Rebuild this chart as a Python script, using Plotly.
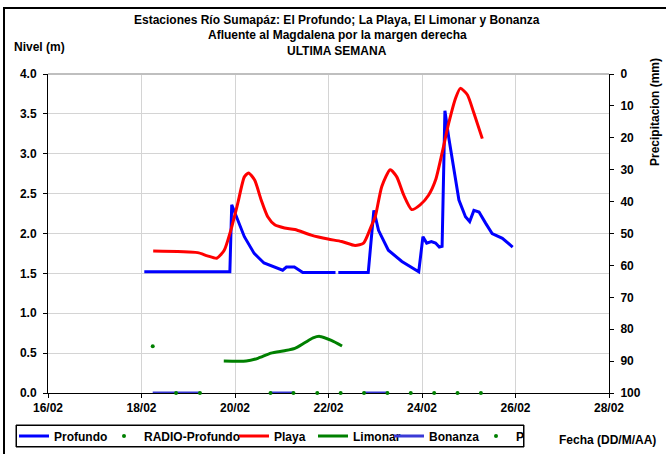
import pandas as pd
import plotly.graph_objects as go

# day-of-month (February) as fractional days, levels in metres
profundo_day = [18.06, 19.89, 19.93, 20.2, 20.41, 20.62, 21.02, 21.1, 21.27, 21.45, 22.15, None,
                22.21, 22.85, 22.97, 23.07, 23.28, 23.57, 23.93, 24.02, 24.1, 24.2, 24.29, 24.37,
                24.43, 24.49, 24.57, 24.68, 24.79, 24.93, 25.02, 25.11, 25.22, 25.36, 25.5, 25.72, 25.94]
profundo_lvl = [1.52, 1.52, 2.36, 1.96, 1.75, 1.63, 1.54, 1.58, 1.58, 1.51, 1.51, None,
                1.51, 1.51, 2.29, 2.04, 1.79, 1.65, 1.52, 1.96, 1.88, 1.90, 1.88, 1.83,
                1.84, 3.54, 3.21, 2.80, 2.42, 2.21, 2.15, 2.29, 2.27, 2.13, 2.00, 1.94, 1.83]

playa_day = [18.25, 19.2, 19.41, 19.61, 19.77, 19.91, 20.06, 20.2, 20.29, 20.42, 20.56, 20.7,
             20.85, 21.06, 21.28, 21.63, 21.99, 22.28, 22.57, 22.75, 22.92, 23.0, 23.14, 23.32,
             23.46, 23.61, 23.78, 23.96, 24.14, 24.29, 24.43, 24.57, 24.72, 24.82, 24.97, 25.11, 25.29]
playa_lvl = [1.78, 1.76, 1.72, 1.69, 1.79, 2.04, 2.38, 2.71, 2.76, 2.67, 2.42, 2.21,
             2.11, 2.07, 2.05, 1.98, 1.93, 1.90, 1.85, 1.88, 2.10, 2.21, 2.59, 2.80,
             2.71, 2.48, 2.30, 2.36, 2.48, 2.67, 3.01, 3.38, 3.70, 3.82, 3.74, 3.51, 3.19]

limonar_day = [19.76, 20.24, 20.49, 20.77, 21.06, 21.28, 21.49, 21.67, 21.81, 22.06, 22.29]
limonar_lvl = [0.40, 0.40, 0.435, 0.50, 0.53, 0.56, 0.63, 0.69, 0.71, 0.66, 0.59]

radio_day = [18.24]
radio_lvl = [0.585]

bonanza_day = [18.24, 19.25, None, 20.76, 21.25, None, 22.76, 23.26]
bonanza_lvl = [0, 0, None, 0, 0, None, 0, 0]

p_day = [18.74, 19.25, 20.76, 21.25, 21.76, 22.26, 22.76, 23.26, 23.76, 24.26, 24.76, 25.26]
p_lvl = [0] * len(p_day)

tick_days = [16, 18, 20, 22, 24, 26, 28]
tick_text = ['16/02', '18/02', '20/02', '22/02', '24/02', '26/02', '28/02']


def to_dt(days):
    base = pd.Timestamp('2024-02-01')
    return [None if d is None else base + pd.to_timedelta(d - 1, unit='D') for d in days]


FONT = 'Liberation Sans, Arial, sans-serif'
NARROW = 'Liberation Sans Narrow, Liberation Sans, Arial, sans-serif'
BOLD = dict(family=FONT, size=12, color='black', weight='bold')


# helper: paper coords from reference pixels (plot area spans x 48..609, y 74..393)
def px(x):
    return (x - 48) / 561


def py(y):
    return (393 - y) / 319


fig = go.Figure()
fig.add_trace(go.Scatter(x=to_dt(bonanza_day), y=bonanza_lvl, mode='lines', name='Bonanza',
                         line=dict(color='#3a3ad6', width=3), showlegend=False))
fig.add_trace(go.Scatter(x=to_dt(profundo_day), y=profundo_lvl, mode='lines', name='Profundo',
                         line=dict(color='#0000ff', width=3), legend='legend'))
fig.add_trace(go.Scatter(x=to_dt(radio_day), y=radio_lvl, mode='markers', name='RADIO-Profundo',
                         marker=dict(color='#008000', size=4), legend='legend2'))
fig.add_trace(go.Scatter(x=to_dt(playa_day), y=playa_lvl, mode='lines', name='Playa',
                         line=dict(color='#ff0000', width=3, shape='spline', smoothing=0.6),
                         legend='legend3'))
fig.add_trace(go.Scatter(x=to_dt(limonar_day), y=limonar_lvl, mode='lines', name='Limonar',
                         line=dict(color='#008000', width=3, shape='spline', smoothing=0.6),
                         legend='legend4'))
fig.add_trace(go.Scatter(x=[None], y=[None], mode='lines', name='Bonanza',
                         line=dict(color='#3a3ad6', width=3), legend='legend5'))
fig.add_trace(go.Scatter(x=to_dt(p_day), y=p_lvl, mode='markers', name='P', cliponaxis=False,
                         marker=dict(color='#008000', size=4), legend='legend6'))
# precipitation axis carrier
fig.add_trace(go.Scatter(x=[None], y=[None], yaxis='y2', showlegend=False, hoverinfo='skip'))

# one legend per entry so each can sit where the reference has it
text_starts = [53, 143, 273, 352, 428, 515]
legends = {}
for i, xs in enumerate(text_starts):
    key = 'legend' if i == 0 else f'legend{i + 1}'
    legends[key] = dict(orientation='h', x=px(xs - 39), y=py(436), xanchor='left', yanchor='middle',
                        bgcolor='rgba(255,255,255,0)', borderwidth=0, font=BOLD, itemwidth=30)


def label(text, x, y, **kw):
    d = dict(text=text, xref='paper', yref='paper', x=px(x), y=py(y), showarrow=False,
             xanchor='center', yanchor='middle', font=dict(size=12))
    d.update(kw)
    return d


fig.update_layout(
    width=666, height=454,
    margin=dict(l=48, r=57, t=74, b=61, autoexpand=False),
    paper_bgcolor='white', plot_bgcolor='white',
    font=dict(family=FONT, size=12, color='black'),
    showlegend=True,
    **legends,
    xaxis=dict(
        type='date',
        range=to_dt([16, 28]),
        tickmode='array', tickvals=to_dt(tick_days), ticktext=tick_text,
        showgrid=True, gridcolor='#d4d4d4', gridwidth=1,
        showline=True, linecolor='black', linewidth=1,
        ticks='outside', ticklen=4, tickcolor='black',
        tickfont=BOLD, zeroline=False, layer='below traces',
    ),
    yaxis=dict(
        range=[0, 4], dtick=0.5, tickformat='.1f',
        showgrid=True, gridcolor='#d4d4d4', gridwidth=1,
        showline=True, linecolor='black', linewidth=1,
        ticks='outside', ticklen=4, tickcolor='black',
        tickfont=BOLD, ticklabelstandoff=4, zeroline=False, layer='below traces',
    ),
    yaxis2=dict(
        overlaying='y', side='right', range=[100, 0], dtick=10,
        showgrid=False, showline=True, linecolor='black', linewidth=1,
        ticks='outside', ticklen=4, tickcolor='black',
        tickfont=BOLD, ticklabelstandoff=4, zeroline=False,
    ),
    shapes=[
        dict(type='line', xref='paper', yref='paper', x0=0, x1=1, y0=1, y1=1,
             line=dict(color='#bfbfbf', width=2)),
        dict(type='rect', xref='paper', yref='paper', x0=px(4), x1=px(700), y0=py(480), y1=py(8),
             line=dict(color='black', width=2)),
        dict(type='rect', xref='paper', yref='paper', x0=px(16), x1=px(524), y0=py(447), y1=py(425),
             line=dict(color='black', width=1)),
    ],
    annotations=[
        label('<b>Estaciones Río Sumapáz: El Profundo; La Playa, El Limonar y Bonanza</b>', 337, 20,
              font=dict(family=NARROW, size=12)),
        label('<b>Afluente al Magdalena por la margen derecha</b>', 337, 35,
              font=dict(family=NARROW, size=12)),
        label('<b>ULTIMA SEMANA</b>', 337, 51, font=dict(family=NARROW, size=12)),
        label('<b>Nivel (m)</b>', 12, 47, xanchor='left'),
        label('<b>Precipitacion (mm)</b>', 655, 112, textangle=-90),
        label('<b>Fecha (DD/M/AA)</b>', 607, 440),
        # legend frame
        label(' ', 270, 436, width=506, height=20, borderpad=0, borderwidth=1,
              bordercolor='black', bgcolor='rgba(255,255,255,0)'),
    ],
)

fig.write_html('out.html', config={'displayModeBar': False},
               post_script="document.body.style.margin = '0';")
